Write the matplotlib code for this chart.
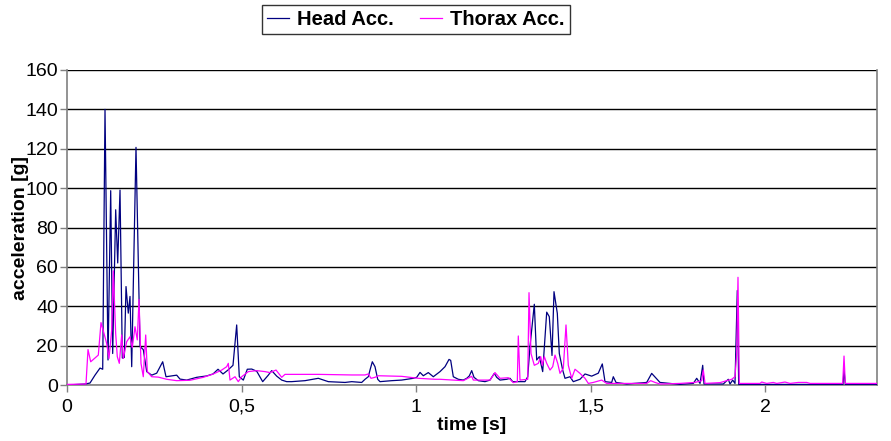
import matplotlib
matplotlib.use("Agg")
import matplotlib.pyplot as plt

plt.rcParams['font.family'] = ['Liberation Sans', 'DejaVu Sans']

head_t = [0.0, 0.0516, 0.0659, 0.0802, 0.0946, 0.1023, 0.1089, 0.1175, 0.1252, 0.1309,
          0.1395, 0.1453, 0.1519, 0.1585, 0.1642, 0.1691, 0.1756, 0.1805, 0.1854, 0.1977,
          0.2092, 0.2186, 0.2284, 0.2427, 0.2570, 0.2742, 0.2837, 0.3000, 0.3143, 0.3238,
          0.3429, 0.3716, 0.4003, 0.4183, 0.4327, 0.4470, 0.4613, 0.4756, 0.4862, 0.4937,
          0.5052, 0.5166, 0.5292, 0.5436, 0.5607, 0.5768, 0.5865, 0.6009, 0.6152, 0.6295,
          0.6438, 0.6819, 0.7201, 0.7487, 0.7966, 0.8158, 0.8444, 0.8539, 0.8633, 0.8682,
          0.8748, 0.8825, 0.8903, 0.8968, 0.9304, 0.9590, 0.9923, 1.0020, 1.0115, 1.0209,
          1.0352, 1.0496, 1.0688, 1.0831, 1.0946, 1.0994, 1.1069, 1.1212, 1.1355, 1.1453,
          1.1527, 1.1596, 1.1662, 1.1785, 1.1977, 1.2120, 1.2244, 1.2312, 1.2407, 1.2599,
          1.2693, 1.2771, 1.2931, 1.3123, 1.3201, 1.3266, 1.3390, 1.3458, 1.3533, 1.3630,
          1.3745, 1.3819, 1.3897, 1.3954, 1.4049, 1.4106, 1.4203, 1.4269, 1.4413, 1.4507,
          1.4699, 1.4842, 1.5034, 1.5223, 1.5338, 1.5415, 1.5607, 1.5653, 1.5731, 1.6037,
          1.6610, 1.6753, 1.6991, 1.7564, 1.7946, 1.8043, 1.8138, 1.8215, 1.8252, 1.8805,
          1.8948, 1.8997, 1.9074, 1.9140, 1.9206, 1.9246, 2.2235, 2.2264, 2.2301, 2.3209]
head_acc = [0.0, 0.5, 1.0, 5.0, 8.6, 8.0, 140.0, 12.7, 98.7, 16.0,
            89.0, 62.0, 99.0, 13.7, 14.0, 50.0, 36.5, 45.0, 9.3, 120.7,
            19.5, 18.0, 6.8, 5.0, 6.0, 11.8, 4.2, 4.6, 5.0, 3.0,
            2.5, 3.9, 4.6, 5.6, 8.0, 5.6, 7.6, 10.0, 30.5, 4.2,
            2.5, 8.0, 8.1, 7.0, 1.7, 5.0, 7.3, 4.5, 2.5, 1.7,
            1.7, 2.2, 3.4, 1.7, 1.3, 1.7, 1.3, 2.9, 4.2, 7.6,
            11.8, 9.3, 2.9, 1.7, 2.2, 2.5, 3.4, 3.9, 6.4, 4.7,
            6.3, 4.2, 6.8, 9.3, 13.0, 12.5, 4.2, 2.9, 2.5, 3.4,
            4.6, 7.3, 3.9, 2.2, 1.7, 2.5, 5.9, 3.9, 2.5, 2.9,
            3.4, 1.7, 1.7, 1.7, 4.2, 19.5, 41.0, 12.7, 14.4, 6.8,
            37.0, 34.7, 15.0, 47.4, 36.4, 16.0, 7.6, 3.4, 4.2, 1.7,
            2.9, 5.6, 4.5, 6.0, 10.7, 1.7, 1.3, 4.2, 1.3, 0.5,
            1.3, 5.9, 1.3, 0.3, 0.8, 3.4, 0.8, 10.0, 0.5, 0.5,
            2.9, 0.5, 2.5, 0.8, 48.0, 0.3, 0.3, 7.6, 0.3, 0.3]

thorax_t = [0.0, 0.0544, 0.0602, 0.0679, 0.0897, 0.0974, 0.1060, 0.1138, 0.1203, 0.1281,
            0.1327, 0.1395, 0.1441, 0.1499, 0.1567, 0.1613, 0.1711, 0.1805, 0.1871, 0.1948,
            0.2014, 0.2063, 0.2120, 0.2186, 0.2255, 0.2301, 0.2427, 0.2616, 0.2857, 0.3143,
            0.3524, 0.3905, 0.4192, 0.4433, 0.4576, 0.4622, 0.4670, 0.4814, 0.4908, 0.5006,
            0.5195, 0.5436, 0.5673, 0.5817, 0.5989, 0.6152, 0.6246, 0.7201, 0.8158, 0.8539,
            0.8633, 0.8711, 0.8825, 0.8920, 0.9590, 1.0066, 1.0544, 1.0688, 1.1355, 1.1596,
            1.1642, 1.2120, 1.2264, 1.2407, 1.2645, 1.2788, 1.2903, 1.2931, 1.2980, 1.3201,
            1.3238, 1.3295, 1.3390, 1.3504, 1.3573, 1.3619, 1.3676, 1.3745, 1.3840, 1.3917,
            1.3983, 1.4060, 1.4126, 1.4221, 1.4298, 1.4364, 1.4461, 1.4556, 1.4699, 1.4842,
            1.4937, 1.5080, 1.5321, 1.5464, 1.6610, 1.6725, 1.6848, 1.6991, 1.7564, 1.7994,
            1.8186, 1.8232, 1.8281, 1.8711, 1.8903, 1.9046, 1.9140, 1.9189, 1.9226, 1.9264,
            1.9857, 1.9906, 2.0049, 2.0238, 2.0335, 2.0573, 2.0716, 2.0954, 2.1195, 2.1289,
            2.2226, 2.2264, 2.2301, 2.3209]
thorax_acc = [0.3, 0.5, 18.0, 11.8, 15.2, 31.7, 26.2, 21.0, 13.5, 28.0,
              58.0, 26.0, 14.4, 11.0, 25.4, 13.5, 22.0, 24.5, 19.0, 29.6,
              22.9, 43.5, 11.0, 4.2, 25.4, 6.8, 4.2, 4.0, 2.9, 2.2,
              2.4, 3.9, 5.6, 7.6, 9.3, 11.0, 2.5, 4.2, 1.7, 4.2,
              6.8, 7.3, 6.8, 6.3, 7.6, 3.9, 5.4, 5.4, 5.1, 5.1,
              5.6, 3.4, 3.9, 4.7, 4.4, 3.4, 2.9, 2.9, 2.2, 4.4,
              2.5, 2.5, 6.3, 3.4, 3.7, 1.2, 1.7, 24.9, 2.5, 2.9,
              46.9, 16.0, 10.0, 11.0, 14.4, 10.0, 14.4, 11.0, 7.6, 9.3,
              15.2, 11.0, 5.9, 8.5, 30.5, 10.0, 3.4, 8.0, 5.9, 3.4,
              0.8, 1.3, 2.5, 0.8, 0.8, 2.2, 1.3, 0.5, 0.8, 1.3,
              2.2, 7.6, 0.8, 1.2, 2.2, 2.9, 4.2, 16.0, 54.7, 0.8,
              0.8, 1.5, 0.8, 1.3, 0.8, 1.5, 0.8, 1.3, 1.3, 0.8,
              0.8, 14.7, 0.8, 0.8]

x_ticks = [0, 0.5, 1, 1.5, 2]
x_tick_labels = ["0", "0,5", "1", "1,5", "2"]
y_ticks = [0, 20, 40, 60, 80, 100, 120, 140, 160]

fig = plt.figure(figsize=(8.91, 4.41), dpi=100)
ax = fig.add_axes([67/891, 1 - 385/441, (877-67)/891, (385-70)/441])

for y in y_ticks:
    ax.axhline(y, color='black', lw=1.0, zorder=1)

ax.plot(head_t, head_acc, color='#000080', lw=0.9, label='Head Acc.', zorder=3)
ax.plot(thorax_t, thorax_acc, color='#FF00FF', lw=0.9, label='Thorax Acc.', zorder=4)

ax.set_xlim(0, 2.3209)
ax.set_ylim(0, 160)
ax.set_xticks(x_ticks)
ax.set_xticklabels(x_tick_labels)
ax.set_yticks(y_ticks)
ax.tick_params(axis='both', direction='out', length=5, width=1, color='#808080',
               labelsize=14, pad=1.5)
ax.tick_params(axis='x', pad=5)

for side in ['left', 'bottom', 'right']:
    ax.spines[side].set_color('#808080')
    ax.spines[side].set_linewidth(1.2)
ax.spines['top'].set_visible(False)

ax.set_xlabel('time [s]', fontsize=14, fontweight='bold', labelpad=1)
ax.set_ylabel('acceleration [g]', fontsize=14, fontweight='bold', labelpad=-3)

leg = fig.legend(loc='upper center', bbox_to_anchor=(416/891, 1 - 5/441), ncol=2,
                 frameon=True, fancybox=False, handlelength=1.1, handletextpad=0.4,
                 columnspacing=1.3, borderpad=0.25, borderaxespad=0,
                 prop={'weight': 'bold', 'size': 14.5})
leg.get_frame().set_edgecolor('black')
leg.get_frame().set_linewidth(1.0)

fig.savefig('out.png', dpi=100)
